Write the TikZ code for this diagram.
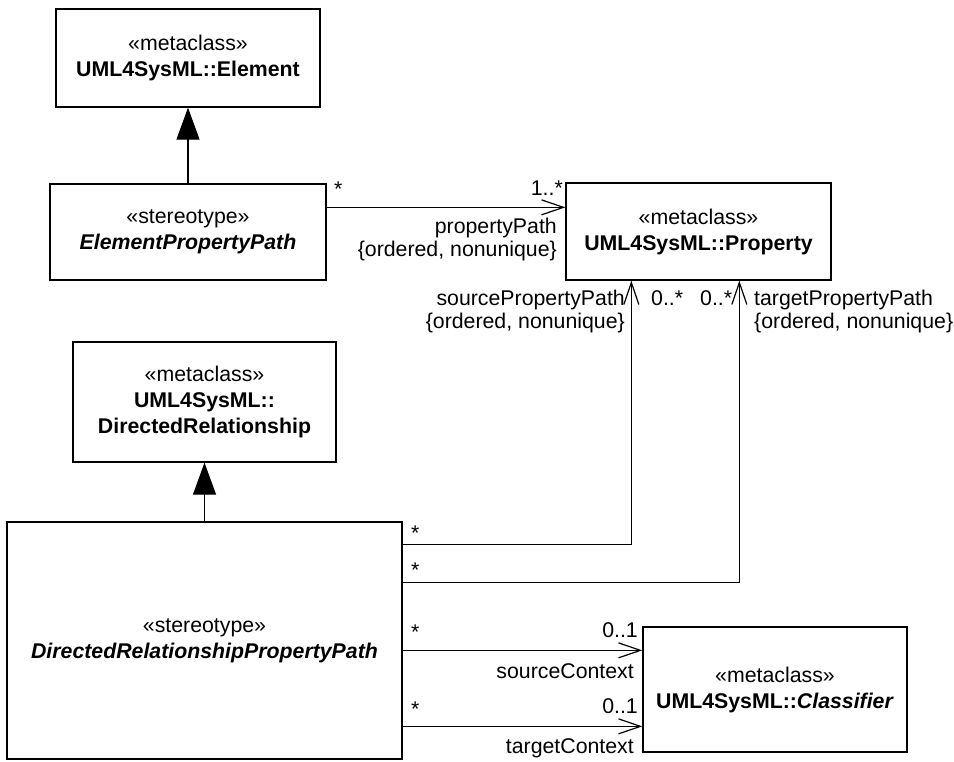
\documentclass[tikz,border=0pt]{standalone}
\usepackage{fontspec}
\setmainfont{Liberation Sans}
\usetikzlibrary{arrows.meta}
\begin{document}
\begin{tikzpicture}[x=1pt,y=-1pt,
  font=\fontsize{21.3}{26}\selectfont,
  cls/.style={draw, line width=1.3pt, align=center, inner sep=0pt, minimum width=#1},
  assoc/.style={line width=1.2pt, -{Straight Barb[length=22pt,width=15pt,line width=1.2pt]}},
  gen/.style={line width=1.2pt, -{Triangle[length=32pt,width=23pt]}},
  lbl/.style={inner sep=0pt},
  lbl2/.style={inner sep=0pt, font=\fontsize{21.3}{23}\selectfont}]
\useasboundingbox (0,0) rectangle (954,762);

% classes
\node[cls=264pt, minimum height=98pt] (elem) at (188,58) {«metaclass»\\\textbf{UML4SysML::Element}};
\node[cls=276pt, minimum height=96pt] (epp) at (188,232) {«stereotype»\\\textbf{\textit{ElementPropertyPath}}};
\node[cls=265pt, minimum height=97pt] (prop) at (698.5,231.5) {«metaclass»\\\textbf{UML4SysML::Property}};
\node[cls=263pt, minimum height=120pt] (dr) at (204.5,402) {«metaclass»\\\textbf{UML4SysML::}\\\textbf{DirectedRelationship}};
\node[cls=395pt, minimum height=237pt] (drpp) at (204.5,640.5) {«stereotype»\\\textbf{\textit{DirectedRelationshipPropertyPath}}};
\node[cls=264pt, minimum height=125pt] (clsf) at (775,689.5) {«metaclass»\\\textbf{UML4SysML::\textit{Classifier}}};

% generalizations
\draw[gen] (epp.north) -- (elem.south);
\draw[gen] (drpp.north) -- (dr.south);

% propertyPath
\coordinate (pp) at ([yshift=-24pt]epp.north east);
\draw[assoc] (pp) -- (pp -| prop.west);
\node[lbl, anchor=base west] (ppA) at (334,197) {*};
\node[lbl, anchor=base east] (ppB) at (563,196) {1..*};
\node[lbl2, anchor=base east, align=right] (ppC) at (557,257) {propertyPath\\\{ordered, nonunique\}};

% source/target property path
\coordinate (s1) at ([yshift=-23pt]drpp.north east);
\coordinate (s2) at ([yshift=-61pt]drpp.north east);
\draw[assoc] (s1) -| ([xshift=66pt]prop.south west);
\draw[assoc] (s2) -| ([xshift=174pt]prop.south west);
\node[lbl, anchor=base west] (s1a) at (411,540) {*};
\node[lbl, anchor=base west] (s2a) at (411,577) {*};
\node[lbl2, anchor=base east, align=right] (spp) at (625,329) {sourcePropertyPath\\\{ordered, nonunique\}};
\node[lbl, anchor=base west] (s1b) at (651,306) {0..*};
\node[lbl, anchor=base west] (s2b) at (700,306) {0..*};
\node[lbl2, anchor=base west, align=left] (tpp) at (754,329) {targetPropertyPath\\\{ordered, nonunique\}};

% contexts
\coordinate (c1) at ([yshift=-129pt]drpp.north east);
\coordinate (c2) at ([yshift=-205pt]drpp.north east);
\draw[assoc] (c1) -- (c1 -| clsf.west);
\draw[assoc] (c2) -- (c2 -| clsf.west);
\node[lbl, anchor=base west] (c1a) at (411,639) {*};
\node[lbl, anchor=base east] (c1b) at (638,637) {0..1};
\node[lbl, anchor=base east] (c1c) at (634,678) {sourceContext};
\node[lbl, anchor=base west] (c2a) at (411,716) {*};
\node[lbl, anchor=base east] (c2b) at (638,713) {0..1};
\node[lbl, anchor=base east] (c2c) at (634,753) {targetContext};
\end{tikzpicture}
\end{document}
